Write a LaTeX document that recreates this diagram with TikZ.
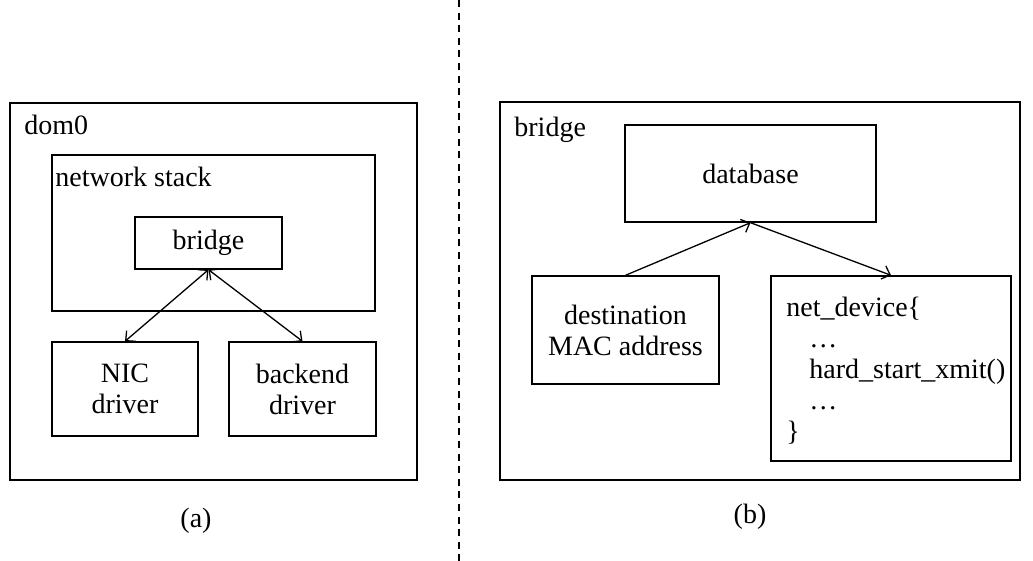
\documentclass[tikz,border=0pt]{standalone}
\usepackage{fontspec}
\setmainfont{Liberation Serif}
\usepackage{tikz}
\usetikzlibrary{arrows.meta}

\tikzset{
  box/.style={draw, line width=0.7pt, inner sep=0pt, align=center,
              font=\fontsize{14}{15.5}\selectfont},
  label/.style={inner sep=0pt, anchor=base west, font=\fontsize{14}{15}\selectfont},
  link/.style={line width=0.65pt},
  >={Straight Barb[length=3.6pt,width=7pt]}
}

\begin{document}
\begin{tikzpicture}[x=0.5pt, y=-0.5pt]
	\useasboundingbox (0,0) rectangle (1033,561);
	% divider
	\coordinate (top) at (459,0);
	\coordinate (bottom) at (459,561);
	\draw[line width=0.9pt, dash pattern=on 3.5pt off 2.8pt] (top)--(bottom);
	% (a) dom0
	\node[box, minimum width=203.5pt, minimum height=188.5pt] (dom) at (213.5,291.5) {};
	\node[label] (domlbl) at (24,135) {dom0};
	\node[box, minimum width=161.5pt, minimum height=78pt] (stack) at (213.5,233) {};
	\node[label] (stacklbl) at (55,187) {network stack};
	\node[box, minimum width=73.5pt, minimum height=26pt] (bra) at (208.5,243) {bridge};
	\node[box, minimum width=73pt, minimum height=47pt] (nic) at (125,389) {NIC\\driver};
	\node[box, minimum width=73.5pt, minimum height=47pt] (back) at (302.5,389) {backend\\driver};
	\draw[link,<->](bra.south)--(nic.north);
	\draw[link,<->](bra.south)--(back.north);
	% (b) bridge
	\node[box, minimum width=260pt, minimum height=189pt] (brb) at (760,291) {};
	\node[label] (brblbl) at (514,137) {bridge};
	\node[box, minimum width=125.5pt, minimum height=48.5pt] (db) at (750.5,173.5) {database};
	\node[box, minimum width=93.5pt, minimum height=54pt] (mac) at (625.5,330) {destination\\MAC address};
	\node[box, minimum width=120pt, minimum height=92.5pt] (dev) at (891,368.5) {};
	\node[inner sep=0pt, anchor=north west, align=left,
	      font=\fontsize{14}{15.5}\selectfont] (devtxt) at (786,297)
	  {net\_device\{\\\hspace*{11.5pt}…\\\hspace*{11.5pt}hard\_start\_xmit()\\\hspace*{11.5pt}…\\\}};
	\draw[link,->](mac.north)--(db.south);
	\draw[link,->](db.south)--(dev.north);
	% captions
	\node[font=\fontsize{14}{15}\selectfont] (capa) at (196,521) {(a)};
	\node[font=\fontsize{14}{15}\selectfont] (capb) at (750,517) {(b)};
\end{tikzpicture}
\end{document}
